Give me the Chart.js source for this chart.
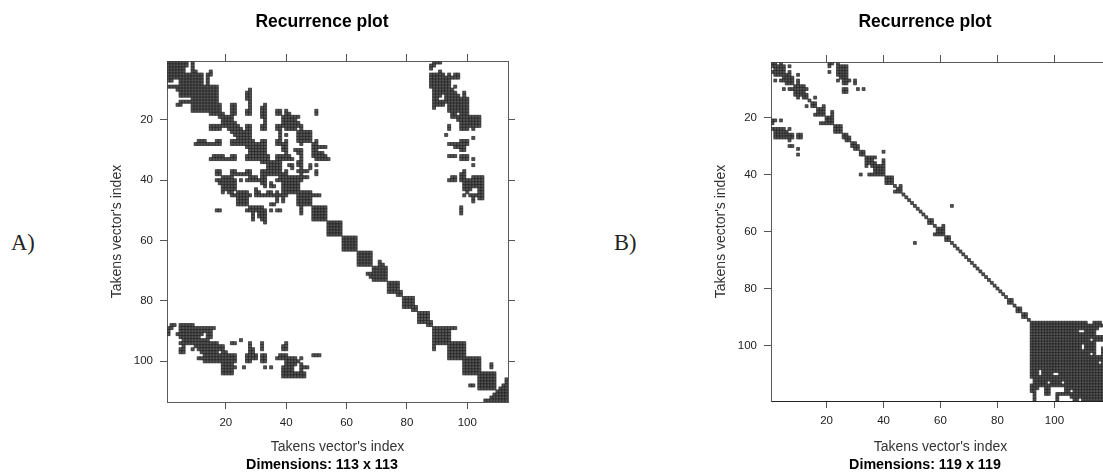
<!DOCTYPE html>
<html><head><meta charset="utf-8">
<script src="https://cdn.jsdelivr.net/npm/chart.js@4"></script>
<style>
html,body{margin:0;padding:0;width:1103px;height:473px;overflow:hidden;background:#fff}
canvas{position:absolute;top:0}
.tag{position:absolute;top:230px;font:22.5px "Liberation Serif";color:#222}
</style></head><body>
<div class="tag" style="left:11px">A)</div>
<div class="tag" style="left:614px">B)</div>
<canvas id="a" width="464" height="473" style="left:90px"></canvas>
<canvas id="b" width="462" height="473" style="left:694px"></canvas>
<script>
// Values. Each string lists the recurrent columns (column >= row)
// of one row of the symmetric recurrence matrix; index 0 is row 1.
const tickValues=[20,40,60,80,100];
const sizeA=113, sizeB=119;
const rowsA=[
"1-7 9 89-91","2-7 9 88-89","3-6 9 88","4-6 9-10 15 91","5-12 14-15 88-92 94 96-97","6-12 14 88-97","7-12 14 88-94","8-12 14 88-94",
"9-17 88-94 96","10-17 28 89-95","11-17 27-28 89-96 99","12-17 27-28 89-91 93-97 99","13-17 27-28 89-90 93-100","14-17 28 89-100","15-18 22-23 28 33 89-92 94-100","16-18 22-23 28 32-33 89 94-100",
"17-18 22-23 27-28 32-33 37-38 40 50 94-100","18-19 22-23 27-28 32-33 37-38 40-41 50 95-96 98-100","19-22 32-33 39-44 95-104","20-22 33 39-43 97-104","21-23 33 39-44 98-104","22-24 27-28 32-33 37-45 94 98-104","23-25 27-28 32-33 37-38 40-43 45 94 98-100 102","24-28 38 44-48",
"25-28 38 40 44-48 93","26-28 38 44-48 102","27-29 32-33 37-38 40 44-48 50 98-100","28-33 37-40 45 49-50 94-100","29-33 39-40 49-53 96-99","30-33 39-40 43-45 49-50 98-99","31-33 40 44-45 49-52 ","32-34 37-41 45 49-53 94-96 98-100",
"33-34 37-42 45 50-54 98-100 102","34-38 44-45","35-38 41-42 44-45 48 50 102","36-38 42 45 48","37-38 40 44-47 50 99","38-40 45 50 98-99","39-47 95-96 98-99 102-105","40-44 45 94-96 98-105",
"41-44 99-105","42-44 99-105","43-44 99-101 104-105","44-48 100 104-105","45-51 99 101-105","46-48 102 104-105","47-48 102","48",
"49-53 98","50-53 98","51-53 98","52-53","53","54-58","55-58","56-58",
"57-58","58","59-63","60-63","61-63","62-63","63","64-68",
"65-68","66-68","67-68 71","68 71-72","69-73","70-73","71-73","72-73",
"73","74-77","75-77","76-77","77-78","78","79-82","80-82",
"81-82","82-83","83","84-87","85-87","86-87","87-88","88",
"89-96","90-94","91-94","92-94","93-94","94-99","95-99","96-99",
"97-99","98-99","99-104","100-104","101-104 108","102-104 108","103-104","104-109",
"105-109","106-109 113","107-109 113","108-109 112-113","109 111-113","110-113","111-113","112-113","113"
];
const rowsB=[
"1-2 4 21-22 24","2-5 7 21 24-27","3-5 24-27","4-5 7 21 24-27","5-7 10 24-27","6-8 25-27","7-8 10 24 26-28 30","8 10 26-27 30",
"9-12","10-13 26-27 31 33","11-12 26-27","12-13","13 16","14","15-16","16 19",
"17-19","18-19 22","19 22","20-22","21-22","22","23-25","24-25",
"25","26-27","27-28","28","29-30","30-31","31","32-33 40",
"33","34-37","35-36 40","36-37 40","37-40","38-40","39-40","40",
"41-43","42-43","43","44 46","45-46","46","47","48",
"49","50","51 64","52","53","54","55","56-57",
"57","58 61","59-61","60-61","61","62-63","63","64",
"65","66","67","68","69","70","71","72",
"73","74","75","76","77","78","79","80",
"81","82","83","84-85","85","86","87-88","88",
"89-90","90","91","92-111 114-116","93-119","94-115","95-108 111-114","96-114",
"97-117","98-112 114-117","99-114","100-109 111-114","101-109 111-114 117-119","102-114 117","103-112 114 117","104-117",
"105-117","106-115 117-118","107-119","108-119","109-118","110-119","111-119","112-119",
"113-119","114-119","115-119","116-119","117-119","118-119","119"
];

function cells(rows){
  const seen=new Set(),pts=[];
  rows.forEach((s,i)=>{
    const r=i+1;
    s.trim().split(/\s+/).forEach(tok=>{
      const [a,b]=tok.split('-').map(Number);
      for(let c=a;c<=(b||a);c++){
        for(const [x,y] of [[c,r],[r,c]]){
          const k=x+','+y;
          if(!seen.has(k)){seen.add(k);pts.push({x,y});}
        }
      }
    });
  });
  return pts;
}

const font='"Liberation Sans"';
function draw(id,rows,size,o){
  const fixW=w=>(s=>{s.width=w;});
  const fixH=h=>(s=>{s.height=h;});
  const setTicks=s=>{s.ticks=tickValues.map(v=>({value:v}));};
  const grid={drawOnChartArea:false,drawTicks:true,tickLength:7,color:'#555',lineWidth:1};
  const border=c=>({display:true,color:c,width:1});
  const range={type:'linear',min:0.5,max:size+0.5,afterBuildTicks:setTicks};
  const label={display:true,text:"Takens vector's index",color:'#333',font:{family:font,size:14}};
  const tick={autoSkip:false,maxRotation:0,minRotation:0,color:'#222',font:{family:font,size:11.5},callback:v=>String(v)};
  const pts=cells(rows);
  new Chart(document.getElementById(id),{
    type:'scatter',
    data:{datasets:[
      {data:pts,order:1,pointStyle:'rect',pointRadius:o.radius,pointHoverRadius:o.radius,
       backgroundColor:'#555555',borderColor:'#141414',borderWidth:0.45},
      {data:pts,order:2,pointStyle:'rect',pointRadius:o.radius+0.6,pointHoverRadius:o.radius+0.6,
       backgroundColor:'rgba(120,120,120,0.7)',borderWidth:0}
    ]},
    options:{
      responsive:false,animation:false,events:[],
      layout:{padding:0},
      plugins:{
        legend:{display:false},tooltip:{enabled:false},
        title:{display:true,text:'Recurrence plot',color:'#000',font:{family:font,size:17.5,weight:'bold'},padding:{top:12,bottom:2}},
        subtitle:{display:true,position:'bottom',text:'Dimensions: '+size+' x '+size,color:'#000',font:{family:font,size:14.3,weight:'bold'},padding:{top:0,bottom:-0.8}}
      },
      scales:{
        x:{...range,position:'bottom',grid,border:border(o.bottom),
           ticks:{...tick,padding:o.tickPad},title:{...label,padding:{top:0,bottom:1.2}},afterFit:fixH(o.bottomH)},
        x2:{...range,position:'top',grid,border:border('#5a5a5a'),ticks:{display:false},afterFit:fixH(o.topH)},
        y:{...range,reverse:true,position:'left',grid,border:border('#5a5a5a'),
           ticks:{...tick,padding:7},title:{...label,padding:{top:18.6,bottom:0}},afterFit:fixW(77)},
        y2:{...range,reverse:true,position:'right',grid,border:border('#5a5a5a'),ticks:{display:false},afterFit:fixW(46)}
      }
    }
  });
}
draw('a',rowsA,sizeA,{radius:2.13,bottom:'#5a5a5a',bottomH:54.6,topH:26,tickPad:6.5});
draw('b',rowsB,sizeB,{radius:2.01,bottom:'#222222',bottomH:55.6,topH:27,tickPad:6});
</script>
</body></html>
